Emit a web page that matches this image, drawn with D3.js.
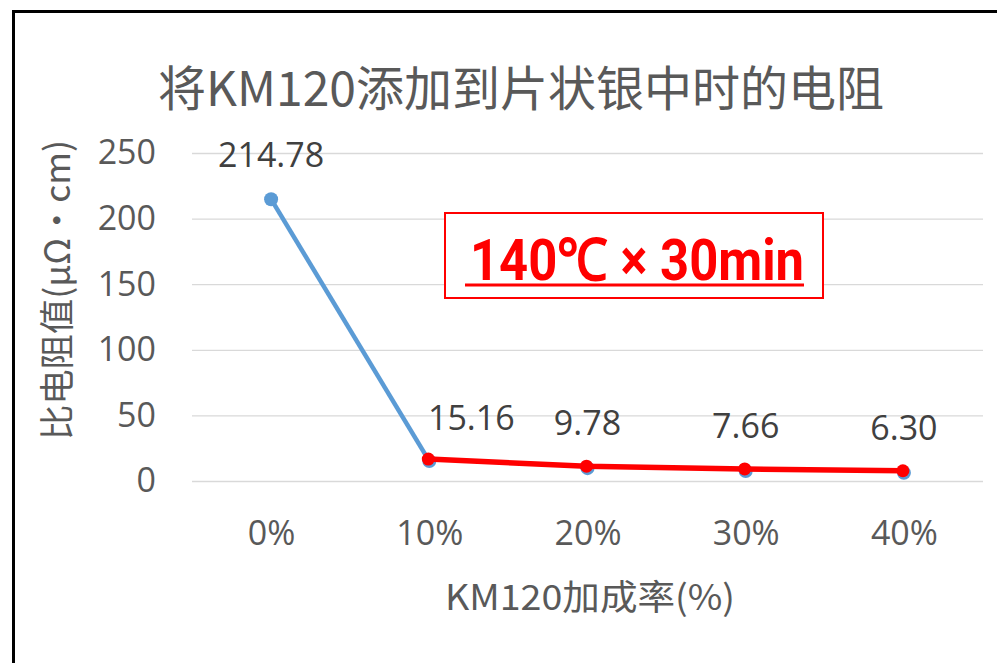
<!DOCTYPE html>
<html>
<head>
<meta charset="utf-8">
<script src="https://cdn.jsdelivr.net/npm/d3@7"></script>
<style>
body { margin: 0; background: #fff; }
text { font-family: "Noto Sans CJK SC", "Noto Sans", sans-serif; }
</style>
</head>
<body>
<script>
var w = 997;
var h = 663;

var categories = ["0%", "10%", "20%", "30%", "40%"];
var values = [214.78, 15.16, 9.78, 7.66, 6.30];
var labels = ["214.78", "15.16", "9.78", "7.66", "6.30"];
var yTicks = [0, 50, 100, 150, 200, 250];

var plotLeft = 192, plotRight = 983, plotTop = 153, plotBottom = 481;

var svg = d3.select("body").append("svg")
  .attr("width", w)
  .attr("height", h);

// outer frame
svg.append("rect")
  .attr("x", 13.5).attr("y", 11.5)
  .attr("width", 1000).attr("height", 700)
  .attr("fill", "none")
  .attr("stroke", "#000")
  .attr("stroke-width", 3);

var x = d3.scalePoint()
  .domain(categories)
  .range([plotLeft, plotRight])
  .padding(0.5);

var y = d3.scaleLinear()
  .domain([0, 250])
  .range([plotBottom, plotTop]);

// grid + y labels
var yAxis = d3.axisLeft(y)
  .tickValues(yTicks)
  .tickSize(-(plotRight - plotLeft))
  .tickPadding(36);

var gy = svg.append("g")
  .attr("transform", "translate(" + plotLeft + ",0)")
  .call(yAxis);
gy.select(".domain").remove();
gy.selectAll(".tick line").attr("stroke", "#d9d9d9").attr("stroke-width", 1.3);
gy.selectAll(".tick text")
  .attr("fill", "#595959")
  .style("font-size", "34px")
  .style("font-family", "'Open Sans', 'Noto Sans', sans-serif");

// x labels
var xAxis = d3.axisBottom(x).tickSize(0).tickPadding(40);
var gx = svg.append("g")
  .attr("transform", "translate(0," + plotBottom + ")")
  .call(xAxis);
gx.select(".domain").remove();
gx.selectAll(".tick text")
  .attr("fill", "#595959")
  .style("font-size", "34px")
  .style("font-family", "'Open Sans', 'Noto Sans', sans-serif");

// title
svg.append("text")
  .attr("x", 521).attr("y", 106)
  .attr("text-anchor", "middle")
  .attr("fill", "#595959")
  .style("font-size", "48px")
  .text("将KM120添加到片状银中时的电阻");

// axis titles
svg.append("text")
  .attr("transform", "translate(70,290) rotate(-90)")
  .attr("text-anchor", "middle")
  .attr("fill", "#595959")
  .style("font-size", "35px")
  .attr("textLength", 300)
  .attr("lengthAdjust", "spacingAndGlyphs")
  .text("比电阻值(μΩ・cm)");

svg.append("text")
  .attr("x", 590).attr("y", 610)
  .attr("text-anchor", "middle")
  .attr("fill", "#595959")
  .style("font-size", "35px")
  .attr("textLength", 290)
  .attr("lengthAdjust", "spacingAndGlyphs")
  .text("KM120加成率(%)");

// series
var pts = categories.map(function(c, i) { return { c: c, v: values[i], l: labels[i] }; });
var line = d3.line()
  .x(function(d) { return x(d.c); })
  .y(function(d) { return y(d.v); });

svg.append("path")
  .datum(pts.slice(0, 2))
  .attr("d", line)
  .attr("fill", "none")
  .attr("stroke", "#5b9bd5")
  .attr("stroke-width", 4.5);

svg.selectAll("circle.blue")
  .data(pts)
  .enter()
  .append("circle")
  .attr("class", "blue")
  .attr("cx", function(d) { return x(d.c); })
  .attr("cy", function(d) { return y(d.v); })
  .attr("r", 7)
  .attr("fill", "#5b9bd5");

svg.append("path")
  .datum(pts.slice(1))
  .attr("d", line)
  .attr("transform", "translate(-1,-2)")
  .attr("fill", "none")
  .attr("stroke", "#ff0000")
  .attr("stroke-width", 5.5);

svg.selectAll("circle.red")
  .data(pts.slice(1))
  .enter()
  .append("circle")
  .attr("class", "red")
  .attr("cx", function(d) { return x(d.c) - 1; })
  .attr("cy", function(d) { return y(d.v) - 2; })
  .attr("r", 6.5)
  .attr("fill", "#ff0000");

// data labels
var offs = [[0, -32], [42, -31], [0, -33], [0, -33], [0, -33]];
svg.selectAll("text.lbl")
  .data(pts)
  .enter()
  .append("text")
  .attr("class", "lbl")
  .attr("x", function(d, i) { return x(d.c) + offs[i][0]; })
  .attr("y", function(d, i) { return y(d.v) + offs[i][1]; })
  .attr("text-anchor", "middle")
  .attr("fill", "#404040")
  .style("font-size", "34px")
  .style("font-family", "'Open Sans', 'Noto Sans', sans-serif")
  .text(function(d) { return d.l; });

// annotation box
svg.append("rect")
  .attr("x", 445).attr("y", 213)
  .attr("width", 378).attr("height", 85)
  .attr("fill", "#fff")
  .attr("stroke", "#ff0000")
  .attr("stroke-width", 2);

svg.append("text")
  .attr("x", 470).attr("y", 280)
  .attr("textLength", 334)
  .attr("lengthAdjust", "spacingAndGlyphs")
  .attr("fill", "#ff0000")
  .style("font-size", "58px")
  .style("font-weight", "bold")
  .style("font-family", "'Liberation Sans Narrow', 'Roboto', sans-serif")
  .text("140℃ × 30min");

svg.append("line")
  .attr("x1", 465).attr("x2", 804)
  .attr("y1", 285).attr("y2", 285)
  .attr("stroke", "#ff0000")
  .attr("stroke-width", 3);
</script>
</body>
</html>
